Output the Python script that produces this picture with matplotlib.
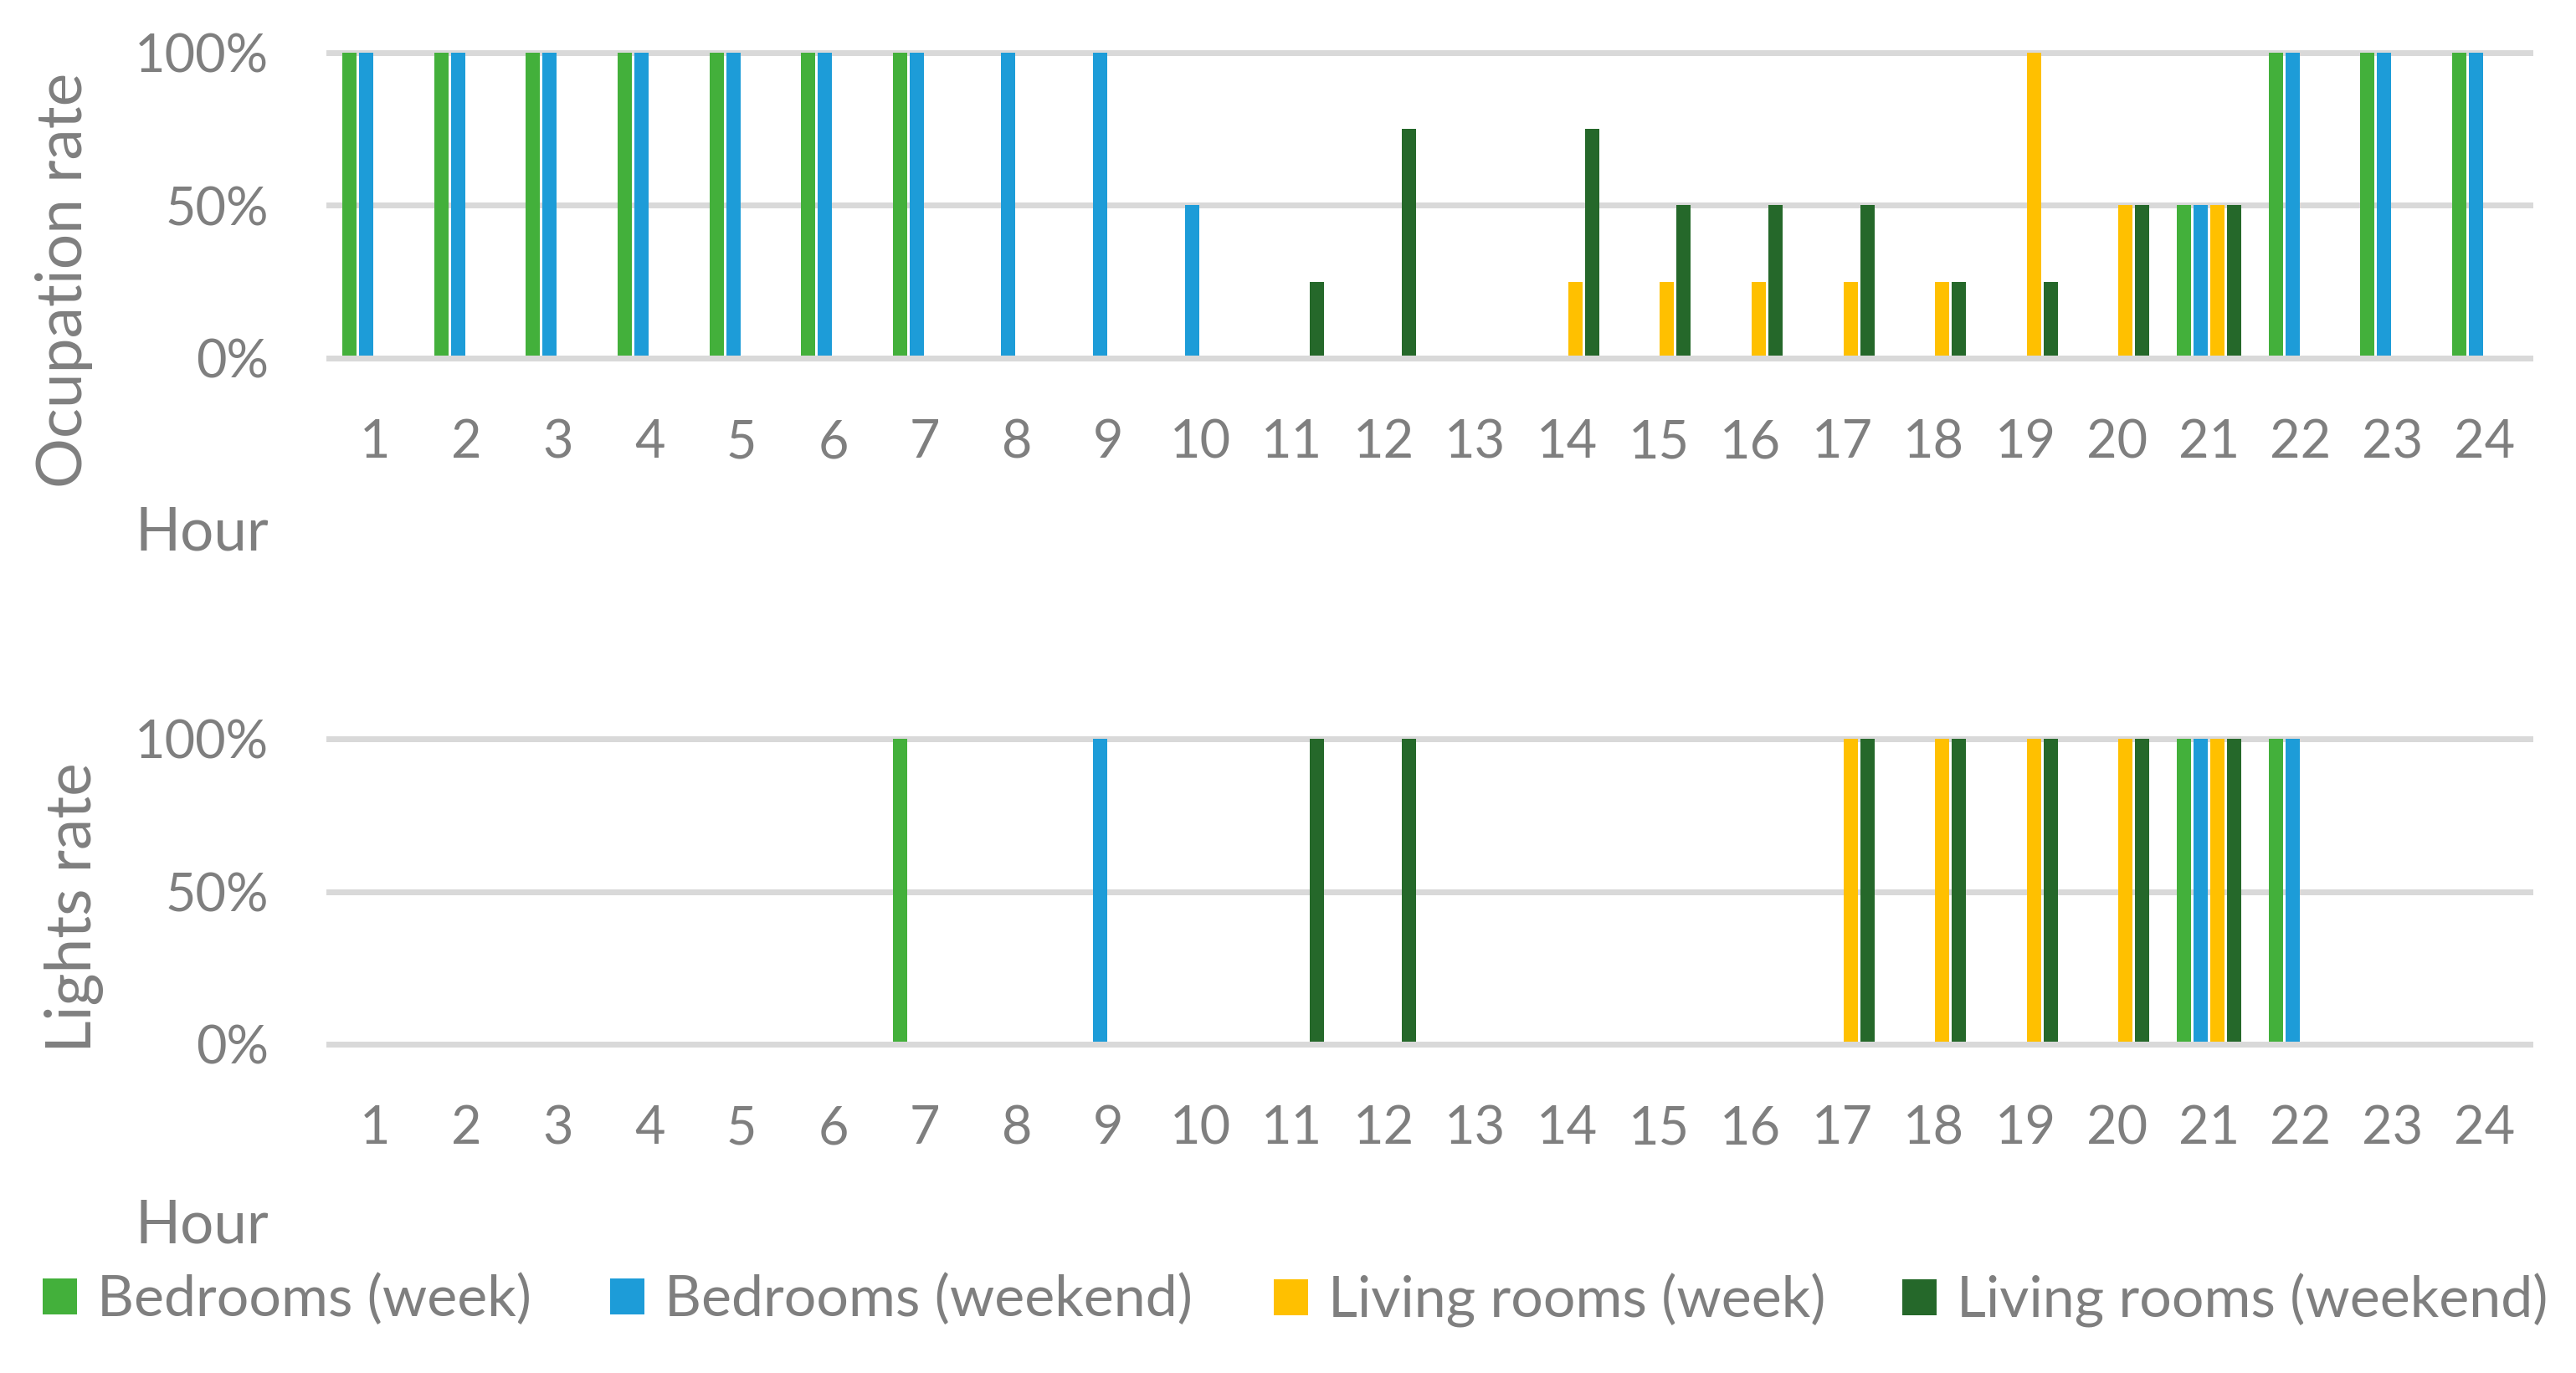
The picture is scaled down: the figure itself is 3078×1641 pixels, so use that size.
import matplotlib
matplotlib.use("Agg")
import matplotlib.pyplot as plt
import numpy as np

plt.rcParams['font.family'] = ['Lato', 'DejaVu Sans']

hours = list(range(1, 25))
hour_labels = [str(h) for h in hours]
series_names = ["Bedrooms (week)", "Bedrooms (weekend)", "Living rooms (week)", "Living rooms (weekend)"]
colors = ["#43B03B", "#1D9CD8", "#FFC000", "#25682A"]

# Occupation rate (%)
occ_bed_week = [100, 100, 100, 100, 100, 100, 100, 0, 0, 0, 0, 0, 0, 0, 0, 0, 0, 0, 0, 0, 50, 100, 100, 100]
occ_bed_weekend = [100, 100, 100, 100, 100, 100, 100, 100, 100, 50, 0, 0, 0, 0, 0, 0, 0, 0, 0, 0, 50, 100, 100, 100]
occ_liv_week = [0, 0, 0, 0, 0, 0, 0, 0, 0, 0, 0, 0, 0, 25, 25, 25, 25, 25, 100, 50, 50, 0, 0, 0]
occ_liv_weekend = [0, 0, 0, 0, 0, 0, 0, 0, 0, 0, 25, 75, 0, 75, 50, 50, 50, 25, 25, 50, 50, 0, 0, 0]

# Lights rate (%)
lig_bed_week = [0, 0, 0, 0, 0, 0, 100, 0, 0, 0, 0, 0, 0, 0, 0, 0, 0, 0, 0, 0, 100, 100, 0, 0]
lig_bed_weekend = [0, 0, 0, 0, 0, 0, 0, 0, 100, 0, 0, 0, 0, 0, 0, 0, 0, 0, 0, 0, 100, 100, 0, 0]
lig_liv_week = [0, 0, 0, 0, 0, 0, 0, 0, 0, 0, 0, 0, 0, 0, 0, 0, 100, 100, 100, 100, 100, 0, 0, 0]
lig_liv_weekend = [0, 0, 0, 0, 0, 0, 0, 0, 0, 0, 100, 100, 0, 0, 0, 0, 100, 100, 100, 100, 100, 0, 0, 0]

yticks = [0, 50, 100]
ytick_labels = ["0%", "50%", "100%"]

W, H = 3078, 1641
DPI = 200
fig = plt.figure(figsize=(W / DPI, H / DPI), dpi=DPI)
TXT = "#7F7F7F"
GRID = "#D9D9D9"

left = 393 / W
right = 3023 / W
ax1 = fig.add_axes([left, 1 - 428 / H, right - left, (428 - 63) / H])
ax2 = fig.add_axes([left, 1 - 1248 / H, right - left, (1248 - 883) / H])

slot = 0.1825
bw = 0.155
x = np.array(hours, dtype=float)
grid_lw = 7 * 72 / DPI

handles = []
for ax, data in [(ax1, [occ_bed_week, occ_bed_weekend, occ_liv_week, occ_liv_weekend]),
                 (ax2, [lig_bed_week, lig_bed_weekend, lig_liv_week, lig_liv_weekend])]:
    hs = []
    for i, (vals, c, name) in enumerate(zip(data, colors, series_names)):
        b = ax.bar(x + (i - 1.5) * slot, vals, width=bw, color=c, label=name, zorder=2, linewidth=0)
        hs.append(b)
    handles = hs if not handles else handles
    ax.set_xlim(0.5, 24.5)
    ax.set_ylim(0, 100)
    for yv in yticks:
        ax.axhline(yv, color=GRID, lw=grid_lw, zorder=3 if yv == 0 else 1, clip_on=False)
    for s in ax.spines.values():
        s.set_visible(False)
    ax.set_xticks(hours)
    ax.set_xticklabels(hour_labels)
    ax.set_yticks(yticks)
    ax.set_yticklabels(ytick_labels)
    ax.tick_params(axis='x', length=0, pad=26, labelsize=22.7, labelcolor=TXT)
    ax.tick_params(axis='y', length=0, pad=26, labelsize=22.7, labelcolor=TXT)

# axis titles
fig.text(241 / W, 1 - 658 / H, "Hour", ha='center', va='baseline', fontsize=25.5, color=TXT)
fig.text(241 / W, 1 - 1486 / H, "Hour", ha='center', va='baseline', fontsize=25.5, color=TXT)
fig.text(77 / W, 1 - 335 / H, "Ocupation rate", rotation=90, ha='center', va='center', fontsize=27, color=TXT)
fig.text(89 / W, 1 - 1085 / H, "Lights rate", rotation=90, ha='center', va='center', fontsize=27, color=TXT)

# legend: one entry per item, placed along the bottom
leg_x = [51, 729, 1522, 2273]
fs = 24.5
for h, name, lx in zip(handles, series_names, leg_x):
    lg = fig.legend([h], [name], loc='center left', bbox_to_anchor=(lx / W, 1 - 1554 / H),
                    frameon=False, fontsize=fs, handlelength=0.6, handleheight=0.59,
                    handletextpad=0.36, borderpad=0, borderaxespad=0, labelcolor=TXT)

fig.savefig("out.png", dpi=DPI)
